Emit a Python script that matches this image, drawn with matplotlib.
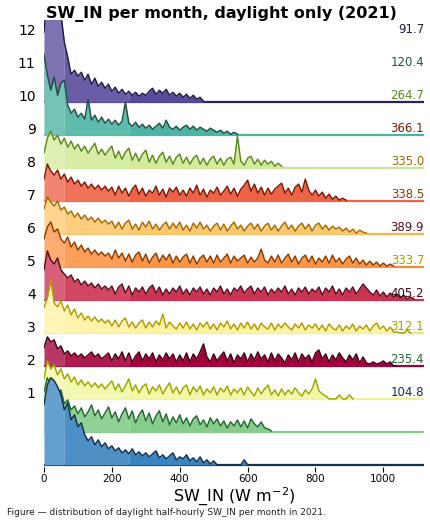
import numpy as np
import matplotlib
matplotlib.use("Agg")
import matplotlib.pyplot as plt
from matplotlib.colors import to_rgb
from matplotlib.transforms import blended_transform_factory

# histogram of daylight SW_IN, bins of 10 W m-2 starting at 0
# heights are relative frequency (arbitrary units, ridge step = 32.9)
bin_w = 10
x_max = 1120

months = [12, 11, 10, 9, 8, 7, 6, 5, 4, 3, 2, 1]
means = [91.7, 120.4, 264.7, 366.1, 335.0, 338.5, 389.9, 333.7, 405.2, 312.1, 235.4, 104.8]

h_dec = [70, 110, 95, 105, 90, 88, 60, 45, 28, 32, 26, 30, 22, 28, 18, 24, 16, 20, 14, 18,
         11, 15, 9, 13, 8, 11, 7, 10, 6, 9, 7, 11, 14, 8, 12, 9, 13, 7, 10, 6,
         9, 5, 8, 4, 7, 3, 5, 1]
h_nov = [81, 60, 45, 58, 40, 52, 55, 30, 22, 26, 18, 22, 16, 36, 15, 20, 13, 18, 12, 16,
         11, 15, 10, 14, 33, 12, 9, 13, 8, 11, 7, 10, 6, 9, 12, 7, 15, 8, 6, 9,
         5, 8, 10, 6, 9, 5, 8, 6, 4, 7, 5, 3, 5, 2, 4, 1, 3, 1]
h_oct = [15, 30, 37, 28, 33, 24, 30, 21, 27, 19, 24, 17, 22, 15, 20, 25, 14, 19, 13, 18,
         22, 10, 17, 9, 16, 20, 8, 15, 7, 14, 18, 6, 13, 5, 12, 16, 6, 12, 4, 11,
         14, 5, 11, 4, 10, 13, 4, 10, 3, 9, 12, 4, 10, 3, 9, 11, 4, 32, 7, 3,
         10, 12, 4, 9, 3, 8, 4, 7, 2, 5, 2]
h_sep = [22, 37, 30, 26, 31, 22, 27, 19, 24, 17, 21, 15, 19, 13, 17, 12, 16, 11, 15, 10,
         14, 6, 15, 8, 13, 5, 12, 16, 7, 13, 5, 11, 8, 15, 6, 12, 4, 13, 9, 14,
         6, 11, 5, 13, 8, 16, 6, 12, 4, 11, 8, 14, 6, 10, 15, 7, 13, 5, 12, 16,
         21, 10, 17, 8, 14, 6, 13, 7, 12, 15, 18, 8, 13, 6, 14, 17, 9, 22, 11, 6,
         11, 5, 9, 3, 7, 2, 5, 1, 3, 1]
h_aug = [25, 37, 32, 28, 33, 24, 27, 20, 23, 17, 21, 15, 19, 14, 17, 12, 16, 11, 14, 10,
         13, 6, 12, 5, 11, 14, 5, 10, 4, 12, 7, 13, 5, 10, 4, 9, 12, 5, 11, 6,
         12, 4, 9, 3, 11, 6, 12, 5, 9, 3, 8, 11, 4, 10, 3, 8, 12, 5, 9, 3,
         8, 11, 5, 10, 3, 8, 11, 4, 9, 3, 8, 12, 5, 9, 3, 8, 11, 5, 10, 3,
         9, 11, 5, 9, 4, 8, 5, 7, 3, 6, 2, 5, 1, 4, 2, 1]
h_jul = [28, 40, 45, 35, 38, 28, 24, 30, 20, 25, 17, 22, 15, 19, 13, 17, 12, 15, 11, 14,
         8, 17, 9, 14, 6, 13, 5, 12, 15, 6, 13, 4, 10, 14, 5, 12, 7, 13, 4, 11,
         5, 10, 13, 4, 11, 3, 9, 12, 5, 11, 4, 12, 5, 9, 13, 4, 11, 6, 9, 12,
         4, 10, 5, 9, 18, 7, 4, 11, 5, 12, 4, 9, 13, 5, 11, 3, 9, 12, 5, 11,
         3, 9, 5, 11, 4, 12, 5, 9, 3, 8, 11, 4, 9, 3, 7, 2, 6, 2, 5, 1,
         4, 1, 3, 1]
h_jun = [30, 49, 40, 36, 42, 30, 26, 22, 25, 18, 21, 15, 19, 14, 17, 12, 16, 11, 14, 10,
         14, 6, 13, 16, 7, 14, 5, 12, 8, 13, 6, 12, 15, 7, 13, 5, 11, 6, 12, 8,
         14, 6, 11, 5, 12, 8, 13, 6, 11, 5, 12, 8, 14, 6, 11, 5, 12, 9, 14, 7,
         11, 14, 6, 12, 8, 13, 5, 11, 7, 12, 8, 14, 6, 11, 5, 12, 8, 13, 6, 11,
         8, 13, 5, 12, 8, 14, 6, 11, 5, 12, 8, 13, 6, 11, 16, 12, 8, 5, 10, 4,
         8, 3, 7, 3, 6, 2, 5, 1, 3, 1]
h_may = [25, 35, 53, 30, 26, 32, 22, 28, 18, 24, 15, 20, 13, 17, 12, 16, 11, 14, 10, 13,
         7, 13, 6, 12, 15, 6, 11, 5, 10, 13, 5, 11, 6, 12, 8, 19, 5, 11, 7, 4,
         10, 5, 11, 4, 9, 3, 10, 6, 11, 4, 9, 3, 10, 6, 12, 4, 9, 3, 10, 5,
         11, 4, 9, 3, 10, 6, 4, 10, 3, 9, 5, 10, 6, 3, 9, 5, 10, 3, 8, 5,
         9, 3, 8, 2, 9, 5, 3, 8, 2, 7, 4, 9, 2, 7, 4, 8, 2, 7, 10, 4,
         7, 2, 6, 1, 1, 0, 0, 3, 0]
h_apr = [18, 29, 24, 26, 17, 20, 12, 15, 10, 13, 9, 12, 8, 11, 14, 9, 12, 7, 10, 13,
         5, 12, 7, 14, 5, 13, 4, 10, 14, 5, 12, 7, 13, 4, 11, 6, 13, 7, 12, 4,
         11, 5, 13, 4, 12, 7, 14, 22, 9, 4, 12, 5, 10, 14, 5, 12, 3, 11, 7, 13,
         4, 12, 6, 14, 7, 11, 4, 13, 5, 12, 8, 3, 11, 6, 13, 4, 12, 7, 11, 4,
         13, 16, 7, 12, 4, 11, 6, 13, 8, 4, 11, 6, 12, 3, 9, 3, 2, 4, 2, 3,
         5, 2, 4, 0, 0]
h_mar = [20, 38, 30, 34, 24, 30, 20, 25, 17, 22, 14, 19, 13, 17, 12, 16, 11, 15, 10, 14,
         18, 9, 15, 7, 13, 20, 8, 14, 6, 12, 15, 5, 12, 8, 14, 5, 11, 16, 6, 12,
         5, 11, 14, 4, 12, 7, 13, 4, 10, 6, 12, 4, 11, 7, 13, 4, 10, 6, 11, 4,
         12, 7, 3, 11, 5, 10, 14, 4, 9, 3, 10, 4, 9, 5, 11, 6, 3, 9, 5, 10,
         20, 8, 5, 3, 0, 0, 0, 4, 0, 0, 4, 0]
h_feb = [40, 54, 45, 50, 36, 42, 28, 32, 22, 26, 18, 24, 15, 20, 27, 16, 22, 13, 19, 25,
         14, 20, 10, 18, 24, 13, 21, 9, 17, 22, 11, 19, 8, 16, 21, 10, 18, 7, 15, 9,
         17, 8, 14, 6, 13, 16, 7, 12, 5, 14, 8, 13, 6, 11, 4, 10, 6, 12, 5, 11,
         4, 13, 8, 5, 10, 4, 3, 1]
h_jan = [60, 80, 87, 84, 78, 70, 55, 62, 45, 50, 38, 42, 30, 24, 28, 20, 25, 18, 22, 16,
         19, 14, 17, 12, 15, 11, 16, 10, 13, 9, 12, 8, 11, 14, 7, 10, 6, 9, 12, 5,
         8, 6, 10, 4, 7, 3, 8, 2, 5, 1, 4, 0, 0, 0, 0, 0, 0, 0, 0, 5,
         0]

heights = [h_dec, h_nov, h_oct, h_sep, h_aug, h_jul, h_jun, h_may, h_apr, h_mar, h_feb, h_jan]

fills = ["#5a4a9c", "#4db3a2", "#d3eb9b", "#ee6246", "#fec870", "#fd9446",
         "#cc3352", "#fff2a3", "#a3003b", "#f2f6a6", "#86cc8a", "#3a84bf"]
edges = ["#241c45", "#1f4f47", "#5c8a1e", "#7a1a08", "#a86a00", "#8a3d00",
         "#55101e", "#b39b00", "#3d0016", "#9aa800", "#246a30", "#13304c"]
base_cols = ["#2a2358", "#4db3a2", "#c9e39a", "#ee6246", "#f8b24c", "#f28a3c",
             "#cc3352", "#fbe27a", "#a3003b", "#eef29a", "#86cc8a", "#13304c"]

unit = 32.9
seg_breaks = [0, 60, 250, x_max]
seg_mix = [0.22, 0.1, 0.0]


def lighten(c, f):
    r = np.array(to_rgb(c))
    return tuple(r + (1 - r) * f)


fig = plt.figure(figsize=(4.31, 5.23), dpi=100)
ax = fig.add_axes([0.102, 0.108, 0.882, 0.854])

n = len(heights)
for i, h in enumerate(heights):
    base = n - 1 - i
    y = base + np.array(h, dtype=float) / unit
    x = np.arange(len(h)) * bin_w
    z = 2 * i
    ax.axhline(base, color=base_cols[i], lw=1.6, zorder=z)
    for k in range(len(seg_mix)):
        m = (x >= seg_breaks[k]) & (x <= seg_breaks[k + 1])
        ax.fill_between(x, base, y, where=m, color=lighten(fills[i], seg_mix[k]),
                        lw=0, zorder=z + 0.5)
    ax.plot(x, y, color=edges[i], lw=1.05, zorder=z + 1)

# month labels and monthly means
tick_y = [m + 1.21 for m in months]
ax.set_yticks(tick_y)
ax.set_yticklabels([str(m) for m in months], fontsize=10)
tr = blended_transform_factory(ax.transAxes, ax.transData)
for i, v in enumerate(means):
    ax.text(1.0, tick_y[i], f"{v:.1f}", transform=tr, ha="right", va="center",
            fontsize=8.5, color=edges[i], zorder=40)

ax.set_xlim(0, x_max)
ax.set_ylim(-0.05, 13.5)
ax.set_xticks([0, 200, 400, 600, 800, 1000])
ax.tick_params(axis="x", labelsize=7.5, length=3.5, width=0.8, pad=2)
ax.tick_params(axis="y", length=0, pad=6)
for s in ax.spines.values():
    s.set_visible(False)
ax.set_xlabel("SW_IN (W m$^{-2}$)", fontsize=11.5, labelpad=1)

fig.text(0.513, 0.973, "SW_IN per month, daylight only (2021)", ha="center", va="center",
         fontsize=11.5, fontweight="bold")
fig.text(0.016, 0.021, "Figure \u2014 distribution of daylight half-hourly SW_IN per month in 2021.",
         fontsize=6.5, color="#222222", va="center")

fig.savefig("out.png", dpi=100)
